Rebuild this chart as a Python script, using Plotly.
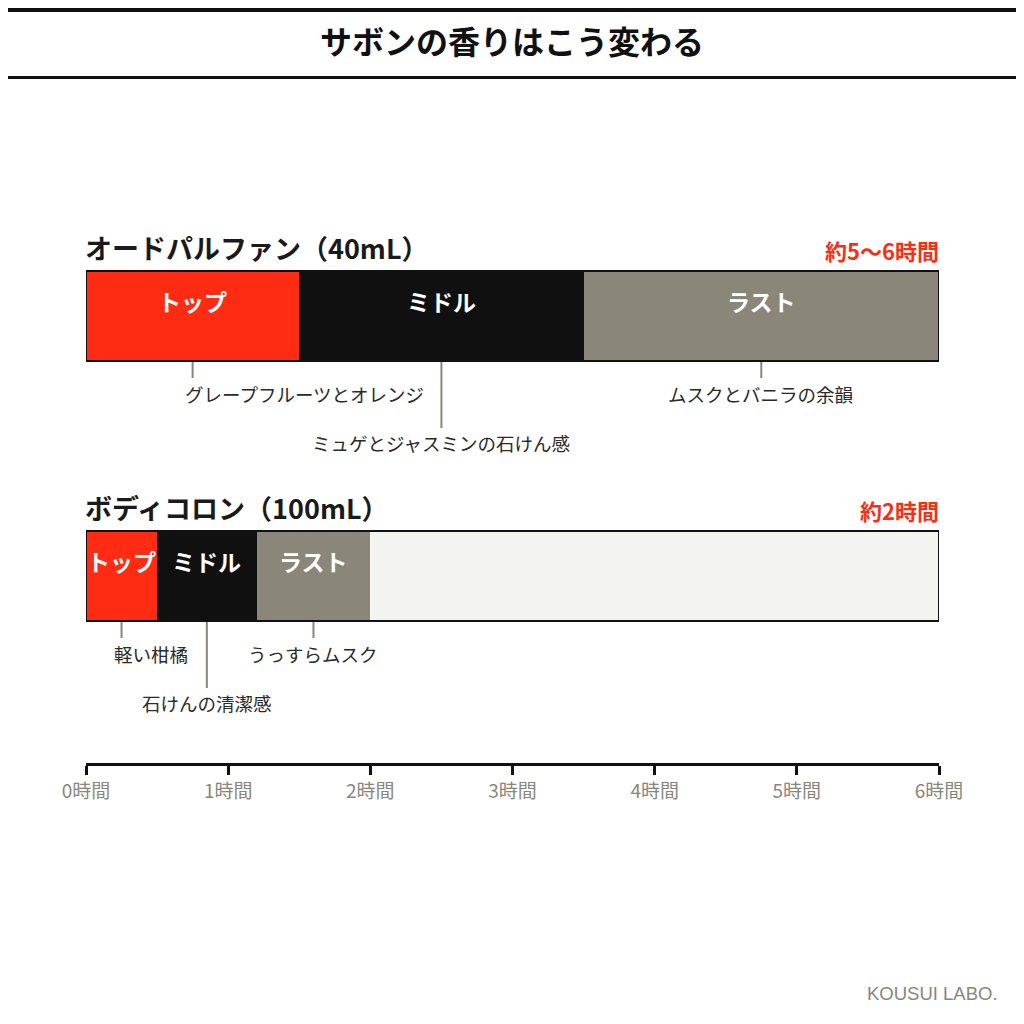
import plotly.graph_objects as go

# ---- data ----
products = ["オードパルファン（40mL）", "ボディコロン（100mL）"]
durations = ["約5〜6時間", "約2時間"]
stages = ["トップ", "ミドル", "ラスト"]
stage_end = [[1.5, 3.5, 6.0], [0.5, 1.2, 2.0]]  # hours
notes = [["グレープフルーツとオレンジ", "ミュゲとジャスミンの石けん感", "ムスクとバニラの余韻"],
         ["軽い柑橘", "石けんの清潔感", "うっすらムスク"]]
tick_hours = [0, 1, 2, 3, 4, 5, 6]
tick_labels = [f"{h}時間" for h in tick_hours]
axis_max = 6

# ---- styles / layout ----
stage_colors = ["#FF2B12", "#101010", "#8A867A"]
rest_color = "#F3F3EF"
gray = "#8A867C"
FONT = "Noto Sans CJK JP"
OFF = 8                      # page offset compensation (px)
W = H = 1024
bar_centers = [316, 576]     # y positions on pixel-scaled axis
bar_h = 90
axis_y = 763

fig = go.Figure()

for si, st in enumerate(stages):
    bases, lens = [], []
    for pi in range(len(products)):
        start = 0 if si == 0 else stage_end[pi][si - 1]
        bases.append(start)
        lens.append(stage_end[pi][si] - start)
    fig.add_trace(go.Bar(orientation="h", y=bar_centers, x=lens, base=bases, width=bar_h,
                         marker=dict(color=stage_colors[si], line=dict(width=0)),
                         hoverinfo="skip", showlegend=False))
rb, rl = [], []
for pi in range(len(products)):
    rb.append(stage_end[pi][-1])
    rl.append(axis_max - stage_end[pi][-1])
fig.add_trace(go.Bar(orientation="h", y=bar_centers, x=rl, base=rb, width=bar_h,
                     marker=dict(color=rest_color, line=dict(width=0)),
                     hoverinfo="skip", showlegend=False))

annotations = []
shapes = []
for pi, prod in enumerate(products):
    yc = bar_centers[pi]
    top = yc - bar_h / 2
    bot = yc + bar_h / 2
    shapes.append(dict(type="rect", xref="x", yref="y", x0=0, x1=axis_max, y0=top, y1=bot,
                       line=dict(color="#111111", width=2), fillcolor="rgba(0,0,0,0)", layer="above"))
    annotations.append(dict(x=0, y=top - 24, xref="x", yref="y", text=f"<b>{prod}</b>",
                            showarrow=False, xanchor="left", yanchor="middle", xshift=-3,
                            font=dict(family=FONT, size=27, color="#1A1A1A")))
    annotations.append(dict(x=axis_max, y=top - 21, xref="x", yref="y", text=f"<b>{durations[pi]}</b>",
                            showarrow=False, xanchor="right", yanchor="middle", xshift=2,
                            font=dict(family=FONT, size=22, color="#FF2B12")))
    for si, st in enumerate(stages):
        start = 0 if si == 0 else stage_end[pi][si - 1]
        mid = (start + stage_end[pi][si]) / 2
        annotations.append(dict(x=mid, y=yc - 15, xref="x", yref="y", text=f"<b>{st}</b>",
                                showarrow=False, xanchor="center", yanchor="middle",
                                font=dict(family=FONT, size=23, color="white")))
        long = (si == 1)
        lead_end = bot + (67 if long else 17)
        text_y = bot + (82 if long else 33)
        shapes.append(dict(type="line", xref="x", yref="y", x0=mid, x1=mid, y0=bot + 1, y1=lead_end,
                           line=dict(color=gray, width=2)))
        first = (si == 0)
        annotations.append(dict(x=mid, y=text_y, xref="x", yref="y", text=notes[pi][si],
                                showarrow=False, xanchor="left" if first else "center",
                                xshift=-10 if first else 0, yanchor="middle",
                                font=dict(family=FONT, size=18.5, color="#2A2A2A")))

# header
annotations.append(dict(x=(511.5 - OFF) / W, y=40, xref="paper", yref="y",
                        text="<b>サボンの香りはこう変わる</b>",
                        showarrow=False, xanchor="center", yanchor="middle",
                        font=dict(family=FONT, size=32, color="#111111")))
shapes.append(dict(type="line", xref="paper", yref="y", x0=0, x1=1, y0=OFF + 2, y1=OFF + 2,
                   line=dict(color="#111111", width=4)))
shapes.append(dict(type="line", xref="paper", yref="y", x0=0, x1=1, y0=77.5, y1=77.5,
                   line=dict(color="#111111", width=3)))
# credit
annotations.append(dict(x=(1000 - OFF) / W, y=1 - (993 - OFF) / H, xref="paper", yref="paper",
                        text="KOUSUI LABO.", showarrow=False, xanchor="right", yanchor="middle",
                        font=dict(family="Liberation Sans", size=18.5, color=gray)))

fig.update_layout(
    template="none",
    width=W, height=H, margin=dict(l=0, r=0, t=0, b=0, autoexpand=False),
    paper_bgcolor="white", plot_bgcolor="white", barmode="overlay", bargap=0,
    xaxis=dict(range=[0, axis_max], domain=[(86 - OFF) / W, (939 - OFF) / W],
               showgrid=False, zeroline=False, automargin=False,
               showline=True, linecolor="#111111", linewidth=3,
               ticks="outside", ticklen=9, tickwidth=3, tickcolor="#111111",
               tickvals=tick_hours, ticktext=tick_labels,
               tickfont=dict(family=FONT, size=19, color=gray), fixedrange=True),
    yaxis=dict(range=[axis_y, OFF], domain=[1 - (axis_y - OFF) / H, 1], visible=False,
               fixedrange=True, automargin=False),
    annotations=annotations, shapes=shapes,
)

fig.write_html("out.html")
